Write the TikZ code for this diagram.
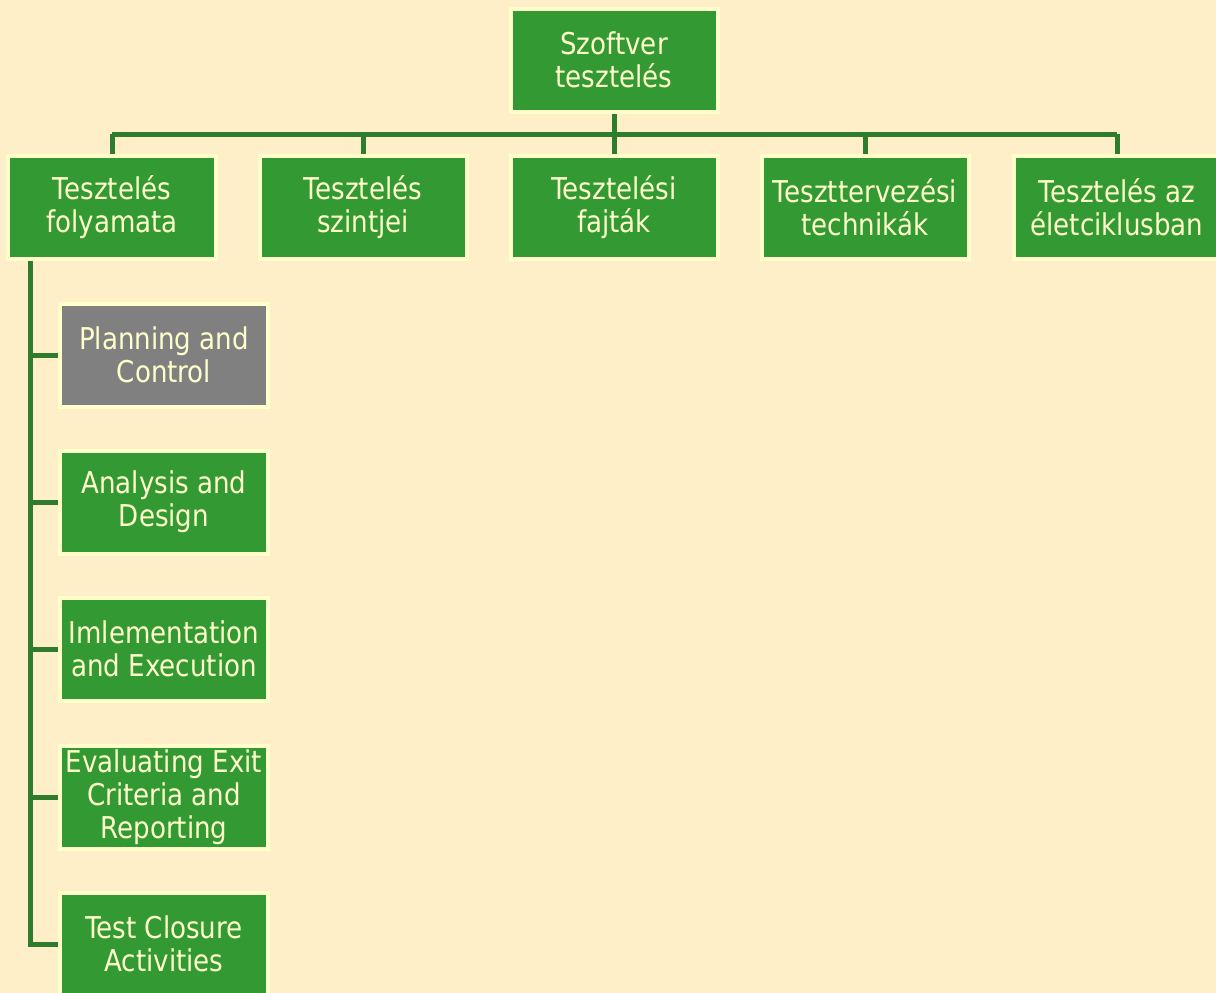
\documentclass[tikz,border=0pt]{standalone}
\usepackage{fontspec}
\setmainfont{DejaVu Sans}[FakeStretch=0.87]
\usetikzlibrary{backgrounds}
\definecolor{paper}{RGB}{255,239,201}
\definecolor{boxgreen}{RGB}{51,153,51}
\definecolor{rim}{RGB}{255,255,204}
\definecolor{wire}{RGB}{46,125,46}
\definecolor{boxgray}{RGB}{128,128,128}
\pgfdeclarelayer{wires}
\pgfsetlayers{background,wires,main}
\tikzset{
  topic/.style={rectangle, fill=boxgreen, draw=rim, line width=4bp,
    minimum width=207bp, minimum height=103bp, inner sep=0pt, align=center,
    text=rim, font=\fontsize{30bp}{33bp}\selectfont},
  faded/.style={topic, fill=boxgray},
  conn/.style={draw=wire, line width=5bp}
}
\begin{document}
\begin{tikzpicture}[x=1bp, y=-1bp]
\useasboundingbox (0,0) rectangle (1216,993);
\begin{pgfonlayer}{background}
  \fill[paper] (0,0) rectangle (1216,993);
\end{pgfonlayer}

% root and first level
\node[topic] (root) at (614,60) {Szoftver\\tesztelés};
\node[topic] (proc) at (112,207) {Tesztelés\\folyamata};
\node[topic] (lvl)  at (363,207) {Tesztelés\\szintjei};
\node[topic] (kind) at (614,207) {Tesztelési\\fajták};
\node[topic] (tech) at (865,207) {Teszttervezési\\technikák};
\node[topic] (life) at (1117,207) {Tesztelés az\\életciklusban};

% steps of the test process
\node[faded] (plan) at (164,355) {Planning and\\Control};
\node[topic] (anal) at (164,502) {Analysis and\\Design};
\node[topic] (impl) at (164,649) {Imlementation\\and Execution};
\node[topic] (eval) at (164,797) {Evaluating Exit\\Criteria and\\Reporting};
\node[topic] (clos) at (164,944) {Test Closure\\Activities};

\coordinate (bus) at (614,134);
\coordinate (spine) at (30,0);

\begin{pgfonlayer}{wires}
  \draw[conn] (root.south) -- (bus);
  \draw[conn] (proc.north |- bus) -- (life.north |- bus);
  \foreach \n in {proc,lvl,kind,tech,life}
    \draw[conn] (\n.north |- bus) -- (\n.north);
  \draw[conn] (proc.south -| spine) -- (spine |- clos.west) -- (clos.west);
  \foreach \n in {plan,anal,impl,eval}
    \draw[conn] (spine |- \n.west) -- (\n.west);
\end{pgfonlayer}
\end{tikzpicture}
\end{document}
